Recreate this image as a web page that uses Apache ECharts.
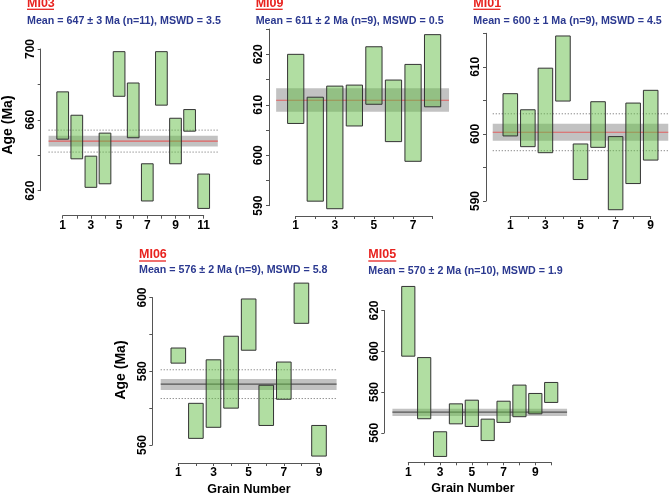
<!DOCTYPE html>
<html><head><meta charset="utf-8">
<script src="https://cdn.jsdelivr.net/npm/echarts@6/dist/echarts.min.js"></script>
<style>html,body{margin:0;padding:0;background:#fff}#c{width:669px;height:495px}</style>
</head><body><div id="c"></div>
<script>
const FONT = "'Liberation Sans', Arial, Helvetica, sans-serif";

// ---------- data ----------
const sampleNames = ['MI03', 'MI09', 'MI01', 'MI06', 'MI05'];
const meanLabels = [
  'Mean = 647 ± 3 Ma (n=11), MSWD = 3.5',
  'Mean = 611 ± 2 Ma (n=9), MSWD = 0.5',
  'Mean = 600 ± 1 Ma (n=9), MSWD = 4.5',
  'Mean = 576 ± 2 Ma (n=9), MSWD = 5.8',
  'Mean = 570 ± 2 Ma (n=10), MSWD = 1.9'
];
const mi03Low  = [649.1, 638.0, 621.9, 623.9, 673.3, 649.9, 614.2, 668.3, 635.2, 653.6, 610.0];
const mi03High = [675.8, 662.6, 639.5, 652.5, 698.5, 680.8, 635.2, 698.5, 660.9, 665.8, 629.4];
const mi09Low  = [606.3, 590.9, 589.4, 605.8, 610.1, 602.7, 598.8, 609.6];
const mi09High = [620.0, 611.5, 613.7, 613.9, 621.5, 614.9, 618.0, 623.9];
const mi01Low  = [599.7, 598.1, 597.2, 604.9, 593.2, 598.0, 588.7, 592.6, 596.1];
const mi01High = [606.0, 603.6, 609.8, 614.6, 598.5, 604.8, 599.6, 604.6, 606.5];
const mi06Low  = [582.2, 561.8, 564.8, 570.0, 585.7, 565.3, 572.4, 593.0, 557.0];
const mi06High = [586.3, 571.3, 583.1, 589.5, 599.6, 576.2, 582.5, 603.9, 565.3];
const mi05Low  = [597.6, 566.9, 548.4, 564.4, 563.1, 556.2, 565.1, 567.9, 569.3, 574.9];
const mi05High = [631.8, 596.9, 560.5, 574.2, 576.0, 566.7, 575.5, 583.4, 579.3, 584.7];
const lowSets  = [mi03Low, mi09Low, mi01Low, mi06Low, mi05Low];
const highSets = [mi03High, mi09High, mi01High, mi06High, mi05High];

const meanValues = [648.0, 610.9, 600.25, 576.5, 570.1];
const bandLow    = [645.0, 608.6, 599.0, 574.9, 568.2];
const bandHigh   = [651.0, 613.3, 601.5, 577.9, 571.8];
const dottedLow  = [641.8, null, 597.5, 572.6, null];
const dottedHigh = [654.2, null, 603.0, 580.4, null];

// axis ticks
const yTickMin   = [620, 590, 590, 560, 560];
const yTickMax   = [700, 625, 615, 600, 620];
const yTickStep  = [20, 5, 5, 10, 20];
const yLabelStep = [40, 10, 10, 20, 20];

// ---------- layout / style ----------
const layout = [
  {left: 62.7, top: 49, width: 141, height: 141.7, yOff: 22, xOff: 25, tx: 27, ty: 3.5, my: 21.5, ulw: 27, uly: 9.3, bandRight: 12, meanColor: '#e06060'},
  {left: 295.7, top: 29.1, width: 136.9, height: 176.6, yOff: 26.7, xOff: 10.3, tx: 255.7, ty: 3.5, my: 21.5, ulw: 27, uly: 9.3, bandRight: 8.84, meanColor: '#e06060'},
  {left: 510.3, top: 33.3, width: 140.4, height: 167.7, yOff: 24.3, xOff: 15, tx: 473.3, ty: 3.5, my: 21.5, ulw: 27, uly: 9.3, bandRight: 10, meanColor: '#e06060'},
  {left: 178.3, top: 297.5, width: 140.7, height: 147.5, yOff: 26, xOff: 18, tx: 139, ty: 255, my: 270.5, ulw: 27, uly: 261, bandRight: 10, meanColor: '#555'},
  {left: 408.3, top: 310.5, width: 142.9, height: 122.3, yOff: 24, xOff: 29.5, tx: 368.3, ty: 255, my: 270.7, ulw: 28, uly: 261, bandRight: 11, meanColor: '#555'}
];
const HALF = 0.415;
const AXIS_COLOR = '#555';
const RED = '#e8231f';
const BLUE = '#2b3990';

const grids = [], xAxes = [], yAxes = [], series = [], graphics = [];

sampleNames.forEach((name, i) => {
  const L = layout[i];
  const n = lowSets[i].length;
  grids.push({left: L.left, top: L.top, width: L.width, height: L.height, outerBoundsMode: 'none', containLabel: false});
  xAxes.push({
    gridIndex: i, type: 'value', min: 1, max: n, interval: 1, offset: L.xOff,
    axisLine: {show: true, onZero: false, lineStyle: {color: AXIS_COLOR, width: 1}},
    axisTick: {show: true, length: 3, lineStyle: {color: AXIS_COLOR, width: 1}},
    axisLabel: {formatter: v => (v % 2 === 1 ? String(v) : ''), color: '#000', fontWeight: 'bold', fontSize: 12, fontFamily: FONT, margin: 4},
    splitLine: {show: false}
  });
  const ymin = yTickMin[i], ls = yLabelStep[i];
  yAxes.push({
    gridIndex: i, type: 'value', min: ymin, max: yTickMax[i], interval: yTickStep[i], offset: L.yOff,
    axisLine: {show: true, onZero: false, lineStyle: {color: AXIS_COLOR, width: 1}},
    axisTick: {show: true, length: 3, lineStyle: {color: AXIS_COLOR, width: 1}},
    axisLabel: {rotate: 90, formatter: v => ((v - ymin) % ls === 0 ? String(v) : ''), color: '#000', fontWeight: 'bold', fontSize: 12, fontFamily: FONT, margin: 4},
    splitLine: {show: false}
  });
  // mean band, mean line, dotted lines
  const bl = bandLow[i], bh = bandHigh[i], mv = meanValues[i], dl = dottedLow[i], dh = dottedHigh[i], br = L.bandRight, mc = L.meanColor;
  series.push({
    type: 'custom', xAxisIndex: i, yAxisIndex: i, clip: false, silent: true,
    data: [[0, mv]],
    renderItem: (params, api) => {
      const a = api.coord([0, bh]), b = api.coord([br, bl]);
      const children = [{type: 'rect', shape: {x: a[0], y: a[1], width: b[0] - a[0], height: b[1] - a[1]}, style: {fill: 'rgba(120,120,120,0.45)'}}];
      const m1 = api.coord([0, mv]), m2 = api.coord([br, mv]);
      children.push({type: 'line', shape: {x1: m1[0], y1: m1[1], x2: m2[0], y2: m2[1]}, style: {stroke: mc, lineWidth: 1.2}});
      [dl, dh].forEach(d => {
        if (d == null) return;
        const p1 = api.coord([0, d]), p2 = api.coord([br, d]);
        children.push({type: 'line', shape: {x1: p1[0], y1: p1[1], x2: p2[0], y2: p2[1]}, style: {stroke: '#666', lineWidth: 1, lineDash: [1, 2]}});
      });
      return {type: 'group', children};
    }
  });
  // grain boxes
  series.push({
    type: 'custom', xAxisIndex: i, yAxisIndex: i, clip: false, silent: true,
    data: lowSets[i].map((lo, k) => [k + 1, lo, highSets[i][k]]),
    renderItem: (params, api) => {
      const g = api.value(0), lo = api.value(1), hi = api.value(2);
      const p1 = api.coord([g - HALF, hi]), p2 = api.coord([g + HALF, lo]);
      return {type: 'rect', shape: {x: p1[0], y: p1[1], width: p2[0] - p1[0], height: p2[1] - p1[1]},
        style: {fill: 'rgba(100,190,70,0.5)', stroke: '#333', lineWidth: 1}};
    }
  });
  // titles
  graphics.push({type: 'text', x: L.tx, y: L.ty, style: {text: name, fill: RED, font: 'bold 12.5px ' + FONT, align: 'left', verticalAlign: 'middle'}});
  graphics.push({type: 'line', shape: {x1: L.tx, y1: L.uly, x2: L.tx + L.ulw, y2: L.uly}, style: {stroke: RED, lineWidth: 1.3}});
  graphics.push({type: 'text', x: L.tx, y: L.my, style: {text: meanLabels[i], fill: BLUE, font: 'bold 10.7px ' + FONT, align: 'left', verticalAlign: 'middle'}});
});

graphics.push({type: 'text', x: 8, y: 125, rotation: Math.PI / 2, style: {text: 'Age (Ma)', fill: '#000', font: 'bold 14px ' + FONT, align: 'center', verticalAlign: 'middle'}});
graphics.push({type: 'text', x: 121, y: 370, rotation: Math.PI / 2, style: {text: 'Age (Ma)', fill: '#000', font: 'bold 14px ' + FONT, align: 'center', verticalAlign: 'middle'}});
graphics.push({type: 'text', x: 249, y: 490, style: {text: 'Grain Number', fill: '#000', font: 'bold 12.5px ' + FONT, align: 'center', verticalAlign: 'middle'}});
graphics.push({type: 'text', x: 473, y: 489, style: {text: 'Grain Number', fill: '#000', font: 'bold 12.5px ' + FONT, align: 'center', verticalAlign: 'middle'}});

const chart = echarts.init(document.getElementById('c'), null, {renderer: 'canvas'});
chart.setOption({
  animation: false,
  backgroundColor: '#fff',
  grid: grids, xAxis: xAxes, yAxis: yAxes, series: series,
  graphic: graphics
});
</script></body></html>
